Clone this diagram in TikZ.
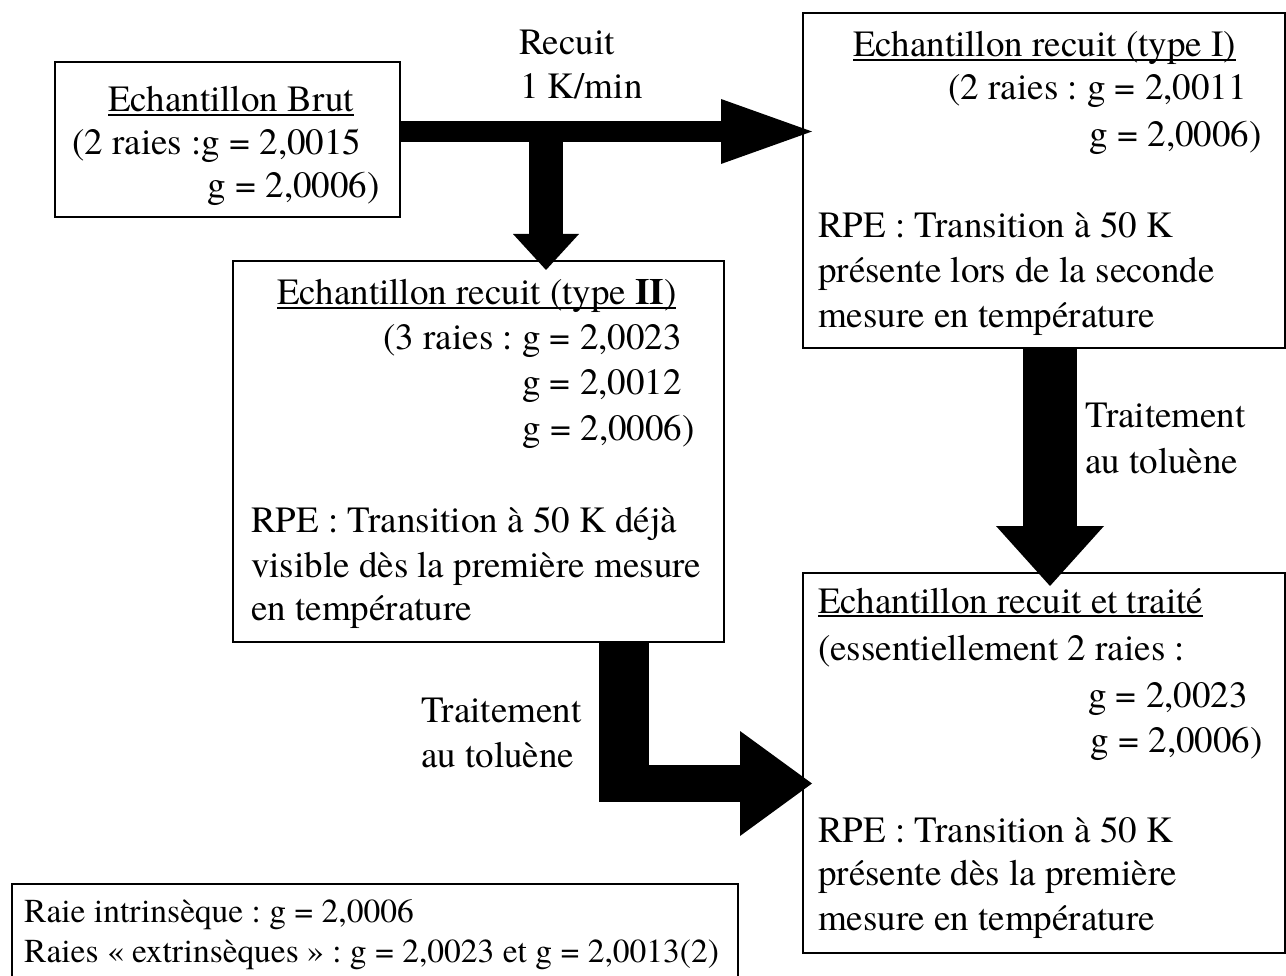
\documentclass[tikz,border=0pt]{standalone}
\usepackage{fontspec}
\setmainfont{TeX Gyre Termes}
\usetikzlibrary{arrows.meta,calc}
\frenchspacing
\newcommand{\souligne}[1]{\setbox0\hbox{#1}\rlap{\rule[-4pt]{\wd0}{2pt}}\box0}
\begin{document}
\begin{tikzpicture}[x=1pt,y=-1pt,boite/.style={draw,line width=2pt,inner sep=0pt},texte/.style={inner sep=0pt,font=\fontsize{37}{45}\selectfont},petit/.style={inner sep=0pt,font=\fontsize{33.5}{40}\selectfont},fleche/.style n args={3}{line width=#1,-{Triangle[length=#2,width=#3,line width=0pt]}}]
\useasboundingbox (0,0) rectangle (1286,976);
\coordinate (recuit) at (0,131.5);
\coordinate (branche) at (546,131.5);
\coordinate (trait) at (1050,0);
\coordinate (coude) at (624,802);
\coordinate (sortie) at (599,783.5);
\node[boite,minimum width=345pt,minimum height=155pt] (brut) at (227.5,139.5) {};
\node[boite,minimum width=482pt,minimum height=335pt] (typeI) at (1044,180.5) {};
\node[boite,minimum width=491pt,minimum height=381pt] (typeII) at (478.5,451.5) {};
\node[boite,minimum width=482pt,minimum height=380pt] (traite) at (1044,763) {};
\node[boite,minimum width=726pt,minimum height=116pt] (legende) at (375,942) {};
\draw[fleche={21pt}{91pt}{65pt}] (brut.east |- recuit) -- ($(typeI.west |- recuit)+(10,0)$);
\draw[fleche={34pt}{36pt}{66pt}] (branche) -- ($(branche |- typeII.north)+(0,10)$);
\draw[fleche={54pt}{60pt}{108pt}] (trait |- typeI.south) -- ($(trait |- traite.north)+(0,14)$);
\draw[line width=50pt] (coude |- typeII.south) -- (coude);
\draw[fleche={37pt}{72pt}{105pt}] (sortie) -- ($(traite.west |- sortie)+(10,0)$);
\node[texte,anchor=base west] (recuitA) at (519,55) {Recuit};
\node[texte,anchor=base west] (recuitB) at (520,99) {1 K/min};
\node[texte,anchor=base west] (toluA) at (1085,428) {Traitement};
\node[texte,anchor=base west] (toluB) at (1085,473) {au toluène};
\node[texte,anchor=base west] (toluC) at (421,722) {Traitement};
\node[texte,anchor=base west] (toluD) at (421,767) {au toluène};
\node[texte,anchor=base west] (brutA) at (108,112) {\souligne{Echantillon Brut}};
\node[texte,anchor=base west] (brutB) at (72,155) {(2 raies :g = 2,0015};
\node[texte,anchor=base east] (brutC) at (380,198) {g = 2,0006)};
\node[texte,anchor=base west] (typeIA) at (853,57) {\souligne{Echantillon recuit (type I)}};
\node[texte,anchor=base east] (typeIB) at (1247,100) {(2 raies : g = 2,0011};
\node[texte,anchor=base east] (typeIC) at (1262,147) {g = 2,0006)};
\node[texte,anchor=base west] (typeID) at (818,238) {RPE : Transition à 50 K};
\node[texte,anchor=base west] (typeIE) at (818,283) {présente lors de la seconde};
\node[texte,anchor=base west] (typeIF) at (818,328) {mesure en température};
\node[texte,anchor=base west] (typeIIA) at (277,305) {\souligne{Echantillon recuit (type \textbf{II})}};
\node[texte,anchor=base east] (typeIIB) at (682,350) {(3 raies : g = 2,0023};
\node[texte,anchor=base east] (typeIIC) at (682,395) {g = 2,0012};
\node[texte,anchor=base east] (typeIID) at (695,440) {g = 2,0006)};
\node[texte,anchor=base west] (typeIIE) at (251,532) {RPE : Transition à 50 K déjà};
\node[texte,anchor=base west] (typeIIF) at (251,577) {visible dès la première mesure};
\node[texte,anchor=base west] (typeIIG) at (251,620) {en température};
\node[texte,anchor=base west] (traiteA) at (818,613) {\souligne{Echantillon recuit et traité}};
\node[texte,anchor=base west] (traiteB) at (818,660) {(essentiellement 2 raies :};
\node[texte,anchor=base east] (traiteC) at (1248,707) {g = 2,0023};
\node[texte,anchor=base east] (traiteD) at (1263,752) {g = 2,0006)};
\node[texte,anchor=base west] (traiteE) at (818,842) {RPE : Transition à 50 K};
\node[texte,anchor=base west] (traiteF) at (818,885) {présente dès la première};
\node[texte,anchor=base west] (traiteG) at (818,930) {mesure en température};
\node[petit,anchor=base west] (legendeA) at (24,922) {Raie intrinsèque : g = 2,0006};
\node[petit,anchor=base west] (legendeB) at (24,962) {Raies « extrinsèques » : g = 2,0023 et g = 2,0013(2)};
\end{tikzpicture}
\end{document}
